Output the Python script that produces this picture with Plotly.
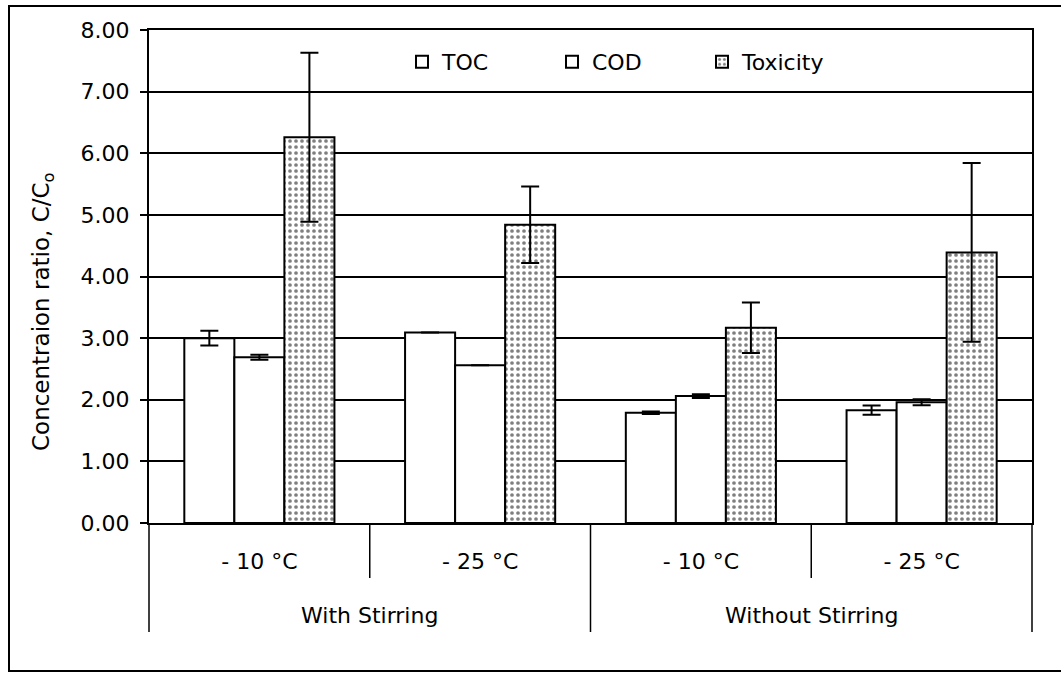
import plotly.graph_objects as go

# ---- data ----
outer_labels = ["With Stirring", "With Stirring", "Without Stirring", "Without Stirring"]
inner_labels = ["- 10 °C", "- 25 °C", "- 10 °C", "- 25 °C"]

toc = [3.00, 3.09, 1.79, 1.83]
toc_err = [0.12, 0.0, 0.02, 0.075]
cod = [2.69, 2.56, 2.06, 1.96]
cod_err = [0.04, 0.0, 0.03, 0.05]
tox = [6.26, 4.84, 3.17, 4.39]
tox_err = [1.37, 0.62, 0.41, 1.45]

y_ticks = [0, 1, 2, 3, 4, 5, 6, 7, 8]
y_title = "Concentraion ratio, C/C<sub>o</sub>"

# ---- figure ----
W, H = 1061, 673
ML, MR, MT, MB = 149, 29, 30, 150
PW, PH = W - ML - MR, H - MT - MB

keys = [f"{o}|{i}" for o, i in zip(outer_labels, inner_labels)]
FONT = "DejaVu Sans, Liberation Sans, Arial, sans-serif"
FS = 22

def err(vals):
    return dict(type="data", array=vals, visible=True, color="black",
                thickness=2, width=9)

fig = go.Figure()
fig.add_trace(go.Bar(name="TOC", x=keys, y=toc, error_y=err(toc_err),
                     marker=dict(color="white", line=dict(color="black", width=2))))
fig.add_trace(go.Bar(name="COD", x=keys, y=cod, error_y=err(cod_err),
                     marker=dict(color="white", line=dict(color="black", width=2))))
fig.add_trace(go.Bar(name="Toxicity", x=keys, y=tox, error_y=err(tox_err),
                     marker=dict(color="white", line=dict(color="black", width=2),
                                 pattern=dict(shape=".", fgcolor="black", bgcolor="white",
                                              size=6, solidity=0.3))))

def py(pix):  # pixel row -> paper y
    return (H - MB - pix) / PH

def px(pix):
    return (pix - ML) / PW

shapes = []
n = len(keys)
# dividers below the axis
for k in range(n + 1):
    outer_boundary = k == 0 or k == n or outer_labels[k - 1] != outer_labels[k]
    y_end = py(632) if outer_boundary else py(578)
    shapes.append(dict(type="line", xref="paper", yref="paper", x0=k / n, x1=k / n,
                       y0=0, y1=y_end, line=dict(color="black", width=1.5)))
# outer frame
shapes.append(dict(type="rect", xref="paper", yref="paper", x0=px(9), x1=px(1070),
                   y0=py(671), y1=py(6), line=dict(color="black", width=2)))

annotations = []
seen = []
for o in outer_labels:
    if o in seen:
        continue
    seen.append(o)
    idx = [i for i, v in enumerate(outer_labels) if v == o]
    annotations.append(dict(text=o, xref="x", yref="paper", x=sum(idx) / len(idx),
                            y=py(615), showarrow=False, yanchor="middle",
                            font=dict(size=FS, color="black", family=FONT)))
# y-axis title (placed like the reference, a little below centre)
annotations.append(dict(text=y_title, xref="paper", yref="paper", x=px(43), y=py(312),
                        textangle=-90, showarrow=False, xanchor="center", yanchor="middle",
                        font=dict(size=23, color="black", family=FONT)))

fig.update_layout(
    width=W, height=H,
    margin=dict(l=ML, r=MR, t=MT, b=MB, autoexpand=False),
    paper_bgcolor="white", plot_bgcolor="white",
    barmode="group", bargap=0.32, bargroupgap=0,
    font=dict(family=FONT, size=FS, color="black"),
    showlegend=True,
    legend=dict(orientation="h", x=px(402), y=py(41), xanchor="left", yanchor="top",
                entrywidth=105, entrywidthmode="pixels", bgcolor="rgba(0,0,0,0)",
                font=dict(size=FS, color="black", family=FONT), traceorder="normal"),
    xaxis=dict(type="category", tickvals=keys, ticktext=inner_labels,
               showline=True, linecolor="black", linewidth=2, mirror=True,
               ticks="", showgrid=False, ticklabelstandoff=18,
               tickfont=dict(size=FS, color="black", family=FONT),
               range=[-0.5, n - 0.5]),
    yaxis=dict(range=[0, 8], tickvals=y_ticks, tickformat=".2f",
               showline=True, linecolor="black", linewidth=2, mirror=True,
               ticks="outside", ticklen=7, tickwidth=1.5, tickcolor="black",
               showgrid=True, gridcolor="black", gridwidth=1.5, zeroline=False,
               ticklabelstandoff=6,
               tickfont=dict(size=FS, color="black", family=FONT)),
    shapes=shapes,
    annotations=annotations,
)

fig.write_html("out.html")
